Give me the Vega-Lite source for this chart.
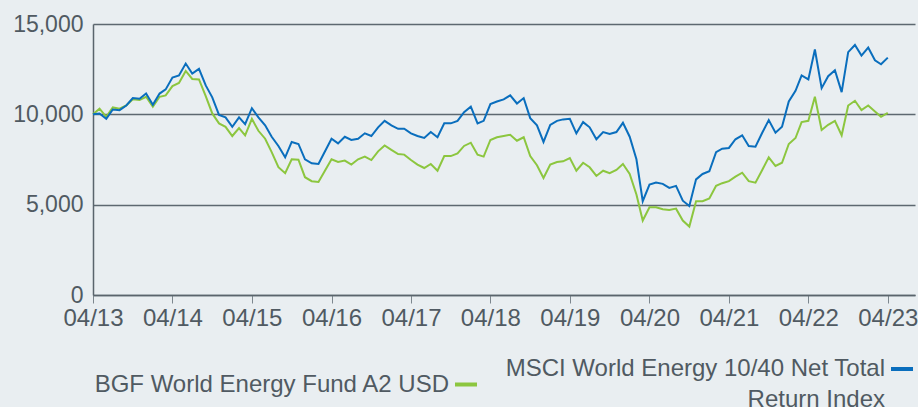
{
  "$schema": "https://vega.github.io/schema/vega-lite/v6.json",
  "autosize": {"type": "none"},
  "padding": {"left": 93, "top": 24, "right": 3, "bottom": 112},
  "width": 822,
  "height": 271,
  "background": "#e9eef1",
  "config": {
    "view": {"stroke": null},
    "font": "Liberation Sans",
    "axis": {"labelFont": "Liberation Sans", "labelFontSize": 23, "labelColor": "#505a62", "title": null}
  },
  "data": {"values": [
    {"d":"2013-04-01","f":10000,"i":10000},{"d":"2013-05-01","f":10310,"i":10050},{"d":"2013-06-01","f":9860,"i":9750},{"d":"2013-07-01","f":10380,"i":10270},{"d":"2013-08-01","f":10310,"i":10230},{"d":"2013-09-01","f":10490,"i":10490},{"d":"2013-10-01","f":10830,"i":10900},{"d":"2013-11-01","f":10790,"i":10860},{"d":"2013-12-01","f":10970,"i":11150},
    {"d":"2014-01-01","f":10420,"i":10530},{"d":"2014-02-01","f":10970,"i":11150},{"d":"2014-03-01","f":11050,"i":11380},{"d":"2014-04-01","f":11560,"i":12040},{"d":"2014-05-01","f":11740,"i":12150},{"d":"2014-06-01","f":12400,"i":12810},{"d":"2014-07-01","f":11960,"i":12260},{"d":"2014-08-01","f":11930,"i":12520},{"d":"2014-09-01","f":11010,"i":11600},{"d":"2014-10-01","f":10050,"i":10940},{"d":"2014-11-01","f":9500,"i":9970},{"d":"2014-12-01","f":9310,"i":9830},
    {"d":"2015-01-01","f":8800,"i":9310},{"d":"2015-02-01","f":9240,"i":9830},{"d":"2015-03-01","f":8840,"i":9460},{"d":"2015-04-01","f":9750,"i":10340},{"d":"2015-05-01","f":9090,"i":9830},{"d":"2015-06-01","f":8650,"i":9390},{"d":"2015-07-01","f":7910,"i":8760},{"d":"2015-08-01","f":7070,"i":8250},{"d":"2015-09-01","f":6740,"i":7620},{"d":"2015-10-01","f":7510,"i":8470},{"d":"2015-11-01","f":7490,"i":8360},{"d":"2015-12-01","f":6520,"i":7510},
    {"d":"2016-01-01","f":6300,"i":7290},{"d":"2016-02-01","f":6260,"i":7250},{"d":"2016-03-01","f":6870,"i":7930},{"d":"2016-04-01","f":7510,"i":8650},{"d":"2016-05-01","f":7360,"i":8390},{"d":"2016-06-01","f":7440,"i":8760},{"d":"2016-07-01","f":7220,"i":8580},{"d":"2016-08-01","f":7510,"i":8650},{"d":"2016-09-01","f":7660,"i":8950},{"d":"2016-10-01","f":7470,"i":8800},{"d":"2016-11-01","f":7950,"i":9280},{"d":"2016-12-01","f":8280,"i":9640},
    {"d":"2017-01-01","f":8030,"i":9390},{"d":"2017-02-01","f":7800,"i":9200},{"d":"2017-03-01","f":7770,"i":9200},{"d":"2017-04-01","f":7470,"i":8950},{"d":"2017-05-01","f":7220,"i":8800},{"d":"2017-06-01","f":7030,"i":8690},{"d":"2017-07-01","f":7250,"i":9020},{"d":"2017-08-01","f":6880,"i":8730},{"d":"2017-09-01","f":7690,"i":9500},{"d":"2017-10-01","f":7690,"i":9500},{"d":"2017-11-01","f":7840,"i":9640},{"d":"2017-12-01","f":8250,"i":10120},
    {"d":"2018-01-01","f":8430,"i":10420},{"d":"2018-02-01","f":7770,"i":9500},{"d":"2018-03-01","f":7660,"i":9640},{"d":"2018-04-01","f":8580,"i":10570},{"d":"2018-05-01","f":8730,"i":10710},{"d":"2018-06-01","f":8800,"i":10830},{"d":"2018-07-01","f":8870,"i":11050},{"d":"2018-08-01","f":8540,"i":10600},{"d":"2018-09-01","f":8730,"i":10900},{"d":"2018-10-01","f":7690,"i":9790},{"d":"2018-11-01","f":7180,"i":9390},{"d":"2018-12-01","f":6480,"i":8470},
    {"d":"2019-01-01","f":7220,"i":9420},{"d":"2019-02-01","f":7360,"i":9640},{"d":"2019-03-01","f":7400,"i":9720},{"d":"2019-04-01","f":7580,"i":9750},{"d":"2019-05-01","f":6880,"i":8950},{"d":"2019-06-01","f":7320,"i":9570},{"d":"2019-07-01","f":7070,"i":9280},{"d":"2019-08-01","f":6590,"i":8620},{"d":"2019-09-01","f":6880,"i":9020},{"d":"2019-10-01","f":6740,"i":8910},{"d":"2019-11-01","f":6920,"i":9020},{"d":"2019-12-01","f":7250,"i":9530},
    {"d":"2020-01-01","f":6700,"i":8760},{"d":"2020-02-01","f":5560,"i":7510},{"d":"2020-03-01","f":4120,"i":5190},{"d":"2020-04-01","f":4860,"i":6110},{"d":"2020-05-01","f":4860,"i":6220},{"d":"2020-06-01","f":4750,"i":6150},{"d":"2020-07-01","f":4710,"i":5930},{"d":"2020-08-01","f":4780,"i":6040},{"d":"2020-09-01","f":4120,"i":5220},{"d":"2020-10-01","f":3790,"i":4930},{"d":"2020-11-01","f":5190,"i":6400},{"d":"2020-12-01","f":5190,"i":6700},
    {"d":"2021-01-01","f":5340,"i":6850},{"d":"2021-02-01","f":6040,"i":7910},{"d":"2021-03-01","f":6190,"i":8100},{"d":"2021-04-01","f":6300,"i":8140},{"d":"2021-05-01","f":6550,"i":8620},{"d":"2021-06-01","f":6770,"i":8840},{"d":"2021-07-01","f":6300,"i":8250},{"d":"2021-08-01","f":6220,"i":8210},{"d":"2021-09-01","f":6920,"i":8980},{"d":"2021-10-01","f":7620,"i":9680},{"d":"2021-11-01","f":7140,"i":8980},{"d":"2021-12-01","f":7320,"i":9310},
    {"d":"2022-01-01","f":8360,"i":10710},{"d":"2022-02-01","f":8690,"i":11300},{"d":"2022-03-01","f":9570,"i":12150},{"d":"2022-04-01","f":9640,"i":11930},{"d":"2022-05-01","f":10970,"i":13590},{"d":"2022-06-01","f":9130,"i":11450},{"d":"2022-07-01","f":9420,"i":12110},{"d":"2022-08-01","f":9640,"i":12440},{"d":"2022-09-01","f":8840,"i":11230},{"d":"2022-10-01","f":10490,"i":13440},{"d":"2022-11-01","f":10750,"i":13840},{"d":"2022-12-01","f":10230,"i":13250},
    {"d":"2023-01-01","f":10490,"i":13700},{"d":"2023-02-01","f":10160,"i":12990},{"d":"2023-03-01","f":9860,"i":12770},{"d":"2023-04-01","f":10080,"i":13140}
  ]},
  "transform": [{"fold": ["f", "i"], "as": ["s", "v"]}],
  "mark": {"type": "line", "strokeWidth": 2},
  "encoding": {
    "x": {
      "field": "d", "type": "temporal",
      "scale": {"type": "utc", "domain": [{"year": 2013, "month": 4, "date": 1, "utc": true}, {"year": 2023, "month": 8, "date": 4, "utc": true}]},
      "axis": {
        "values": [
          {"year": 2013, "month": 4, "date": 1, "utc": true},{"year": 2014, "month": 4, "date": 1, "utc": true},{"year": 2015, "month": 4, "date": 1, "utc": true},{"year": 2016, "month": 4, "date": 1, "utc": true},{"year": 2017, "month": 4, "date": 1, "utc": true},{"year": 2018, "month": 4, "date": 1, "utc": true},{"year": 2019, "month": 4, "date": 1, "utc": true},{"year": 2020, "month": 4, "date": 1, "utc": true},{"year": 2021, "month": 4, "date": 1, "utc": true},{"year": 2022, "month": 4, "date": 1, "utc": true},{"year": 2023, "month": 4, "date": 1, "utc": true}
        ],
        "format": "%m/%y",
        "grid": false,
        "labelFontSize": 24,
        "domainColor": "#5a646c", "domainWidth": 1.5,
        "tickColor": "#7d878e", "tickSize": 8, "tickWidth": 1,
        "labelPadding": 3, "labelFlush": false, "labelOverlap": false
      }
    },
    "y": {
      "field": "v", "type": "quantitative",
      "scale": {"domain": [0, 15000], "nice": false},
      "axis": {
        "values": [0, 5000, 10000, 15000], "format": ",.0f",
        "grid": true, "gridColor": "#5d6870", "gridWidth": 1.4,
        "domainColor": "#5a646c", "domainWidth": 1.5,
        "ticks": false, "labelPadding": 10
      }
    },
    "color": {
      "field": "s", "type": "nominal",
      "scale": {"domain": ["f", "i"], "range": ["#8cc63f", "#0a6ebd"]},
      "legend": {
        "title": null,
        "orient": "none", "legendX": 360, "legendY": 332,
        "direction": "horizontal",
        "symbolType": "stroke", "symbolSize": 484, "symbolStrokeWidth": 4,
        "labelFont": "Liberation Sans", "labelFontSize": 24, "labelColor": "#505a62",
        "labelAlign": "right", "labelOffset": -30, "labelLimit": 1000,
        "columnPadding": 20,
        "labelExpr": "datum.value == 'i' ? ['MSCI World Energy 10/40 Net Total', 'Return Index'] : 'BGF World Energy Fund A2 USD'",
        "encode": {"labels": {"update": {"lineHeight": {"value": 31}}}}
      }
    }
  }
}
